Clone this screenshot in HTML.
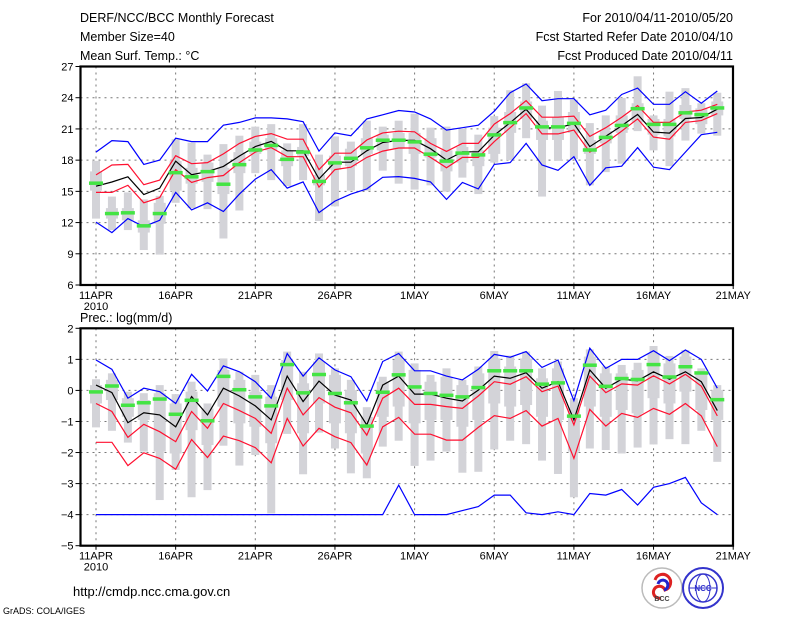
<!DOCTYPE html>
<html><head><meta charset="utf-8"><style>
html,body{margin:0;padding:0;background:#fff;}
svg{display:block;font-family:"Liberation Sans",sans-serif;}
</style></head><body>
<svg id="chart" width="800" height="618" viewBox="0 0 800 618" xmlns="http://www.w3.org/2000/svg">
<rect width="800" height="618" fill="#fff"/>
<g font-size="12.5" fill="#000">
<text x="80" y="22">DERF/NCC/BCC Monthly Forecast</text>
<text x="80" y="41">Member Size=40</text>
<text x="80" y="60">Mean Surf. Temp.: °C</text>
</g>
<g font-size="12.5" fill="#000" text-anchor="end">
<text x="733" y="22">For 2010/04/11-2010/05/20</text>
<text x="733" y="41">Fcst Started Refer Date 2010/04/10</text>
<text x="733" y="60">Fcst Produced Date 2010/04/11</text>
</g>
<text x="80" y="322" font-size="12.5">Prec.: log(mm/d)</text>
<g id="top"></g>
<g id="bot"></g>
<text x="73" y="596" font-size="13">http://cmdp.ncc.cma.gov.cn</text>
<text x="3" y="614" font-size="9">GrADS: COLA/IGES</text>
<g>
<circle cx="662" cy="588" r="20" fill="#fff" stroke="#bbb" stroke-width="1.5"/>
<path d="M655 580 a8 8 0 1 1 10 10 a6 6 0 1 0 -4 8" fill="none" stroke="#d22" stroke-width="3"/>
<path d="M658 584 a5 5 0 1 1 6 6" fill="none" stroke="#22c" stroke-width="3"/>
<text x="662" y="601" font-size="7" text-anchor="middle" font-weight="bold" fill="#444">BCC</text>
</g>
<g>
<circle cx="703" cy="588" r="20" fill="#fff" stroke="#33c" stroke-width="2"/>
<circle cx="703" cy="588" r="14" fill="none" stroke="#33c" stroke-width="1.5"/>
<ellipse cx="703" cy="588" rx="7" ry="14" fill="none" stroke="#33c" stroke-width="1"/>
<line x1="689" y1="588" x2="717" y2="588" stroke="#33c"/>
<text x="703" y="591" font-size="8" text-anchor="middle" font-weight="bold" fill="#33c">NCC</text>
</g>
</svg>
<script>
// ---- Temperature data (°C), days 11APR..20MAY ----
var tBlack=[15.5,15.9,16.4,14.7,15.3,17.9,16.6,16.9,17.4,18.4,19.3,19.8,18.9,18.9,16.2,17.8,17.8,18.9,19.7,19.9,19.9,19.1,18.0,18.8,18.8,20.4,21.6,22.9,21.1,21.1,21.5,19.3,20.3,21.3,22.4,20.7,20.6,22.0,22.1,22.9];
var tRedHi=[16.58,17.53,17.59,15.64,16.08,18.43,17.66,17.76,18.6,19.61,20.28,20.55,20.01,20.01,17.09,18.67,18.67,19.94,20.62,20.78,20.72,19.61,18.84,19.61,19.61,21.46,22.47,23.71,22.13,22.13,22.23,20.28,21.12,22.13,23.24,21.63,21.63,22.63,22.80,23.37];
var tRedLo=[14.90,14.90,15.58,13.90,14.40,17.09,15.85,16.32,16.52,17.76,18.77,19.21,18.33,18.33,15.41,17.09,17.32,18.26,18.87,19.17,19.17,18.26,17.26,18.26,18.26,19.78,21.12,22.47,20.52,20.52,20.89,18.77,19.68,20.79,21.96,20.21,20.01,21.63,21.80,22.47];
var tBlueHi=[18.77,19.88,19.78,17.59,18.0,20.11,19.78,19.78,21.36,21.63,22.06,22.06,21.96,21.69,18.87,20.62,20.35,21.96,22.36,22.77,22.63,21.96,20.89,21.12,21.36,22.70,24.48,25.32,23.71,23.91,23.91,22.36,22.80,24.31,24.92,23.37,23.37,24.58,23.47,24.65];
var tBlueLo=[12.05,11.04,12.38,11.61,12.22,14.90,13.22,13.90,13.06,14.74,16.18,17.09,15.31,15.91,12.96,14.06,14.74,15.24,16.35,16.42,16.25,15.91,14.23,15.85,15.24,17.59,17.76,19.61,17.53,17.02,18.33,15.58,17.26,17.42,19.21,17.32,17.09,18.77,20.45,20.68];
var tGreen=[15.81,12.89,12.96,11.71,12.89,16.82,16.42,16.92,15.71,17.59,19.0,19.44,18.10,18.80,15.98,17.76,18.20,19.21,19.94,19.94,19.78,18.6,17.93,18.70,18.53,20.45,21.63,23.04,21.22,21.22,21.56,19.0,20.21,21.36,22.97,21.46,21.46,22.57,22.40,23.04];
var tMax=[17.93,14.50,14.90,14.23,14.57,20.01,19.68,18.53,19.54,20.35,21.22,21.46,19.61,21.46,18.53,20.28,19.78,21.79,21.22,21.79,22.47,21.12,21.22,21.02,20.45,22.23,24.72,25.39,23.24,24.65,23.81,21.56,22.30,23.98,26.06,22.30,24.58,24.92,23.47,24.48];
var tMin=[12.38,11.28,11.28,9.36,8.92,13.90,13.39,13.29,10.47,13.16,16.75,16.08,15.51,16.08,12.15,13.56,15.07,15.07,16.99,15.74,15.17,15.58,14.97,16.32,14.74,17.76,18.0,20.11,14.50,17.93,18.10,15.58,16.85,17.66,20.79,18.94,17.42,19.88,20.55,20.35];
var tQ3=[16.92,13.39,13.39,12.22,13.90,17.93,17.26,17.76,17.26,18.77,19.78,20.11,18.94,19.27,16.58,18.43,19.10,20.11,20.45,20.62,20.62,20.11,18.94,19.27,18.94,21.12,22.63,23.64,21.79,22.13,22.63,19.94,20.79,22.30,23.47,21.96,21.96,23.30,22.97,23.64];
var tQ1=[15.07,12.38,12.22,11.04,11.88,15.07,15.74,15.91,14.74,16.75,18.60,18.94,17.42,18.43,15.58,17.09,17.42,18.60,18.94,19.10,18.60,18.26,16.92,17.76,17.42,18.6,20.62,21.96,19.94,19.94,20.62,18.6,19.61,20.62,21.63,20.45,20.28,21.96,21.46,22.30];
var tTicks=[6,9,12,15,18,21,24,27];
// ---- Precipitation data (log mm/d) ----
var pBlack=[0.17,-0.07,-1.04,-0.72,-0.79,-1.17,-0.20,-0.79,0.07,-0.18,-0.50,-0.95,0.46,-0.36,0.30,-0.15,-0.31,-1.11,0.17,0.46,-0.12,-0.12,-0.25,-0.34,0.01,0.46,0.39,0.57,0.07,0.28,-0.95,0.66,0.07,0.36,0.31,0.60,0.36,0.60,0.28,-0.65];
var pRedHi=[-0.42,-0.68,-1.51,-1.09,-1.33,-1.65,-0.68,-1.22,-0.42,-0.65,-0.90,-1.38,0.07,-0.79,-0.23,-0.54,-0.72,-1.44,-0.25,0.07,-0.45,-0.45,-0.52,-0.58,-0.18,0.28,0.20,0.44,-0.04,0.14,-1.11,0.46,-0.07,0.21,0.17,0.47,0.21,0.52,0.14,-0.82];
var pRedLo=[-1.67,-1.67,-2.42,-2.01,-2.19,-2.54,-1.58,-2.16,-1.47,-1.62,-1.84,-2.33,-0.90,-1.79,-1.22,-1.49,-1.68,-2.40,-1.17,-0.87,-1.41,-1.41,-1.60,-1.60,-1.19,-0.81,-0.90,-0.65,-1.15,-0.90,-2.19,-0.61,-1.15,-0.74,-0.87,-0.58,-0.77,-0.42,-0.82,-1.81];
var pBlueHi=[0.98,0.68,-0.25,0.07,-0.04,-0.42,0.52,-0.02,0.79,0.60,0.28,-0.25,1.19,0.46,1.05,0.66,0.44,-0.34,0.93,1.19,0.63,0.63,0.46,0.34,0.68,1.16,1.07,1.25,0.74,0.98,-0.33,1.36,0.71,1.00,1.00,1.28,0.96,1.30,1.00,0.07];
var pBlueLo=[-4,-4,-4,-4,-4,-4,-4,-4,-4,-4,-4,-4,-4,-4,-4,-4,-4,-4,-4,-3.05,-4,-4,-4,-3.87,-3.74,-3.37,-3.37,-3.94,-4,-3.91,-4,-3.32,-3.37,-3.19,-3.69,-3.12,-3.00,-2.80,-3.62,-4];
var pGreen=[-0.04,0.15,-0.47,-0.39,-0.27,-0.76,-0.31,-0.97,0.46,0.03,-0.20,-0.49,0.84,-0.07,0.52,-0.09,-0.39,-1.14,-0.05,0.51,0.12,-0.09,-0.15,-0.20,0.10,0.64,0.64,0.64,0.21,0.25,-0.82,0.82,0.14,0.39,0.36,0.84,0.44,0.77,0.57,-0.29];
var pMax=[0.36,0.55,-0.04,-0.09,0.17,-0.12,0.28,-0.42,1.03,0.60,0.50,0.17,1.25,0.60,1.19,0.71,0.34,-0.54,0.44,1.25,0.87,0.50,0.71,0.34,0.77,1.27,1.12,1.25,0.71,0.93,-0.25,1.32,0.77,0.82,0.89,1.43,1.11,1.30,0.71,0.17];
var pMin=[-1.19,-1.30,-1.68,-1.97,-3.53,-2.56,-3.44,-3.21,-1.78,-2.42,-2.08,-3.96,-1.40,-2.70,-1.36,-1.87,-2.67,-2.83,-1.81,-1.62,-2.43,-2.26,-1.97,-2.65,-2.62,-1.90,-1.62,-1.73,-2.26,-2.69,-3.44,-1.87,-1.92,-2.03,-1.84,-1.74,-1.57,-1.73,-1.30,-2.30];
var pQ3=[0.17,0.34,-0.25,-0.31,-0.09,-0.42,-0.04,-0.58,0.66,0.34,-0.04,-0.20,0.98,0.23,0.93,0.50,0.01,-0.85,0.28,0.98,0.66,0.28,0.44,0.17,0.55,1.03,0.77,1.03,0.39,0.71,-0.58,1.09,0.55,0.55,0.66,1.19,0.87,1.09,0.55,0.01];
var pQ1=[-0.42,-0.31,-0.85,-0.95,-1.97,-2.03,-1.28,-1.76,-0.52,-1.06,-1.17,-1.70,-0.31,-1.38,-0.42,-1.06,-1.38,-2.03,-0.85,-0.52,-1.06,-0.95,-0.95,-1.17,-0.95,-0.42,-0.52,-0.47,-0.85,-0.95,-1.97,-0.52,-0.85,-0.63,-0.74,-0.25,-0.42,-0.04,-0.63,-0.95];
var pTicks=[-5,-4,-3,-2,-1,0,1,2];
var dateLabels=["11APR","16APR","21APR","26APR","1MAY","6MAY","11MAY","16MAY","21MAY"];

var NS="http://www.w3.org/2000/svg";
var X0=80.5,X1=733,DX0=96,DSTEP=15.93;
function xOf(d){return DX0+d*DSTEP;}
function mk(p,tag,at){var e=document.createElementNS(NS,tag);for(var k in at)e.setAttribute(k,at[k]);p.appendChild(e);return e;}

function panel(g,top,bot,vmin,vmax,ticks,S,showYear){
  function y(v){return bot-(v-vmin)/(vmax-vmin)*(bot-top);}
  for(var i=1;i<ticks.length-1;i++){
    var gl=mk(g,'line',{x1:X0,x2:X1,y1:y(ticks[i]),y2:y(ticks[i]),stroke:'#777','stroke-width':1,'stroke-dasharray':'2,4'});
    
    
  }
  for(var j=0;j<dateLabels.length;j++){
    var xx=xOf(j*5);
    if(j<dateLabels.length-1){
      var vg=mk(g,'line',{x1:xx,x2:xx,y1:top,y2:bot,stroke:'#777','stroke-width':1,'stroke-dasharray':'2,4'});
      
      
    }
    mk(g,'line',{x1:xx,x2:xx,y1:bot,y2:bot+4,stroke:'#000','stroke-width':1});
    var tl=mk(g,'text',{x:xx,y:bot+14,'font-size':11,'text-anchor':'middle'});
    tl.textContent=dateLabels[j];
    
    
  }
  if(showYear){
    var yr=mk(g,'text',{x:xOf(0),y:bot+25,'font-size':11,'text-anchor':'middle'});
    yr.textContent='2010';
    
    
  }
  for(var i2=0;i2<ticks.length;i2++){
    mk(g,'line',{x1:X0-5,x2:X0,y1:y(ticks[i2]),y2:y(ticks[i2]),stroke:'#000','stroke-width':1});
    var yl=mk(g,'text',{x:X0-7,y:y(ticks[i2])+4,'font-size':11,'text-anchor':'end'});
    yl.textContent=String(ticks[i2]).replace('-','\u2212');
    
    
  }
  for(var d=0;d<S.max.length;d++){
    var xc=xOf(d);
    var r1=mk(g,'rect',{x:xc-4,y:y(S.max[d]),width:8,height:y(S.min[d])-y(S.max[d]),fill:'#d3d3d8'});
    
    
    var r2=mk(g,'rect',{x:xc-6,y:y(S.q3[d]),width:12,height:y(S.q1[d])-y(S.q3[d]),fill:'#d3d3d8'});
    
    
  }
  function line(arr,col,name){
    var pts=arr.map(function(v,i){return xOf(i).toFixed(1)+','+y(v).toFixed(1);}).join(' ');
    var pl=mk(g,'polyline',{points:pts,fill:'none',stroke:col,'stroke-width':1.2});
    
    
  }
  line(S.blueHi,'#0000ff','upper-bound-line');
  line(S.blueLo,'#0000ff','lower-bound-line');
  line(S.redHi,'#ff1030','upper-spread-line');
  line(S.redLo,'#ff1030','lower-spread-line');
  line(S.black,'#000','ensemble-mean-line');
  for(var d2=0;d2<S.green.length;d2++){
    var gm=mk(g,'rect',{x:xOf(d2)-7,y:y(S.green[d2])-1.5,width:14,height:3.5,fill:'#44e444'});
    
    
  }
  var fr=mk(g,'rect',{x:X0,y:top,width:X1-X0,height:bot-top,fill:'none',stroke:'#000','stroke-width':2.2});
  
  
}
panel(document.getElementById('top'),66.5,285,6,27,tTicks,{black:tBlack,redHi:tRedHi,redLo:tRedLo,blueHi:tBlueHi,blueLo:tBlueLo,green:tGreen,max:tMax,min:tMin,q3:tQ3,q1:tQ1},true);
panel(document.getElementById('bot'),328.3,545.7,-5,2,pTicks,{black:pBlack,redHi:pRedHi,redLo:pRedLo,blueHi:pBlueHi,blueLo:pBlueLo,green:pGreen,max:pMax,min:pMin,q3:pQ3,q1:pQ1},true);
</script>
</body></html>
